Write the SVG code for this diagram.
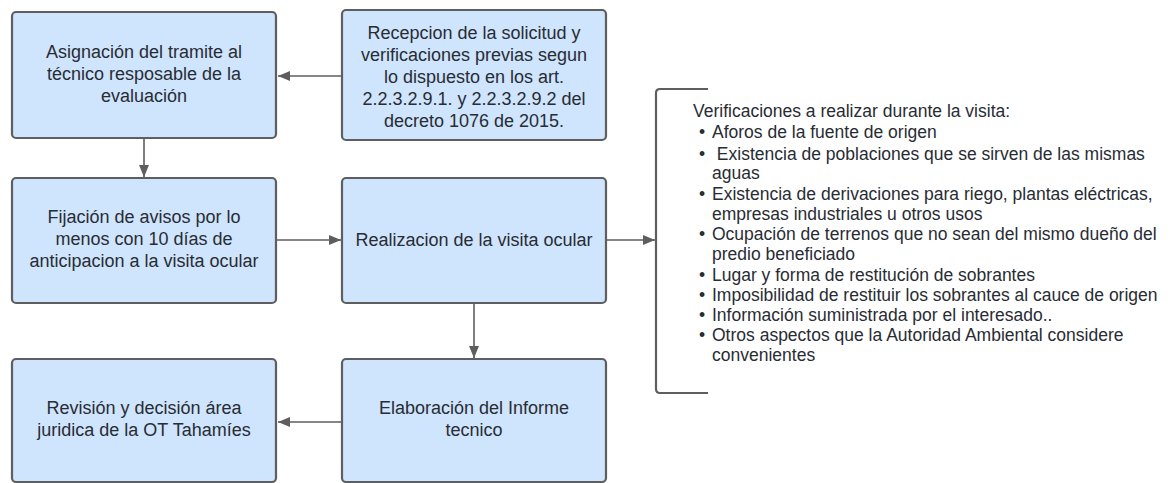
<svg xmlns="http://www.w3.org/2000/svg" width="1171" height="483" viewBox="0 0 1171 483">
<style>
.box{fill:#cfe4fd;stroke:#5e5e5e;stroke-width:2.2}
.t{font-family:"Liberation Sans",Arial,sans-serif;font-size:18px;fill:#282c33;text-anchor:middle}
.l{font-family:"Liberation Sans",Arial,sans-serif;font-size:17.5px;fill:#282c33}
.c{stroke:#5e5e5e;stroke-width:1.6;fill:none}
</style>
<defs>
<marker id="ah" viewBox="0 0 12 10" refX="12" refY="5" markerWidth="12" markerHeight="10" markerUnits="userSpaceOnUse" orient="auto">
<path d="M0,0 L12,5 L0,10 Z" fill="#5e5e5e"/>
</marker>
</defs>
<rect width="1171" height="483" fill="#ffffff"/>
<g id="connectors">
<line class="c" x1="342" y1="76" x2="278" y2="76" marker-end="url(#ah)"/>
<line class="c" x1="144" y1="139" x2="144" y2="177" marker-end="url(#ah)"/>
<line class="c" x1="277" y1="240" x2="341" y2="240" marker-end="url(#ah)"/>
<line class="c" x1="607" y1="240" x2="655" y2="240" marker-end="url(#ah)"/>
<line class="c" x1="474" y1="304" x2="474" y2="358" marker-end="url(#ah)"/>
<line class="c" x1="342" y1="422" x2="278" y2="422" marker-end="url(#ah)"/>
</g>
<g id="n1">
<rect class="box" x="12" y="12" width="264" height="126" rx="4"/>
<text class="t"><tspan x="144" y="58">Asignación del tramite al</tspan><tspan x="144" y="80">técnico resposable de la</tspan><tspan x="144" y="102">evaluación</tspan></text>
</g>
<g id="n2">
<rect class="box" x="342" y="10" width="264" height="130" rx="4"/>
<text class="t"><tspan x="474" y="39">Recepcion de la solicitud y</tspan><tspan x="474" y="61">verificaciones previas segun</tspan><tspan x="474" y="83">lo dispuesto en los art.</tspan><tspan x="474" y="105">2.2.3.2.9.1. y 2.2.3.2.9.2 del</tspan><tspan x="474" y="127">decreto 1076 de 2015.</tspan></text>
</g>
<g id="n3">
<rect class="box" x="12" y="178" width="264" height="125" rx="4"/>
<text class="t"><tspan x="144" y="223">Fijación de avisos por lo</tspan><tspan x="144" y="245">menos con 10 días de</tspan><tspan x="144" y="267">anticipacion a la visita ocular</tspan></text>
</g>
<g id="n4">
<rect class="box" x="342" y="178" width="264" height="125" rx="4"/>
<text class="t" x="474" y="246">Realizacion de la visita ocular</text>
</g>
<g id="n5">
<rect class="box" x="12" y="359" width="264" height="123" rx="4"/>
<text class="t"><tspan x="144" y="414">Revisión y decisión área</tspan><tspan x="144" y="436">juridica de la OT Tahamíes</tspan></text>
</g>
<g id="n6">
<rect class="box" x="342" y="359" width="264" height="123" rx="4"/>
<text class="t"><tspan x="474" y="414">Elaboración del Informe</tspan><tspan x="474" y="436">tecnico</tspan></text>
</g>
<g id="n7">
<path class="c" d="M708,89 H660 Q656,89 656,93 V389 Q656,393 660,393 H708" style="stroke-width:2.2"/>
<text class="l">
<tspan x="693" y="117">Verificaciones a realizar durante la visita:</tspan>
<tspan x="699" y="138">•</tspan><tspan x="712" y="138">Aforos de la fuente de origen</tspan>
<tspan x="699" y="160">•</tspan><tspan x="712" y="160"> Existencia de poblaciones que se sirven de las mismas</tspan>
<tspan x="712" y="179">aguas</tspan>
<tspan x="699" y="200">•</tspan><tspan x="712" y="200">Existencia de derivaciones para riego, plantas eléctricas,</tspan>
<tspan x="712" y="220">empresas industriales u otros usos</tspan>
<tspan x="699" y="240">•</tspan><tspan x="712" y="240">Ocupación de terrenos que no sean del mismo dueño del</tspan>
<tspan x="712" y="260">predio beneficiado</tspan>
<tspan x="699" y="281">•</tspan><tspan x="712" y="281">Lugar y forma de restitución de sobrantes</tspan>
<tspan x="699" y="301">•</tspan><tspan x="712" y="301">Imposibilidad de restituir los sobrantes al cauce de origen</tspan>
<tspan x="699" y="321">•</tspan><tspan x="712" y="321">Información suministrada por el interesado..</tspan>
<tspan x="699" y="341">•</tspan><tspan x="712" y="341">Otros aspectos que la Autoridad Ambiental considere</tspan>
<tspan x="712" y="361">convenientes</tspan>
</text>
</g>
</svg>
